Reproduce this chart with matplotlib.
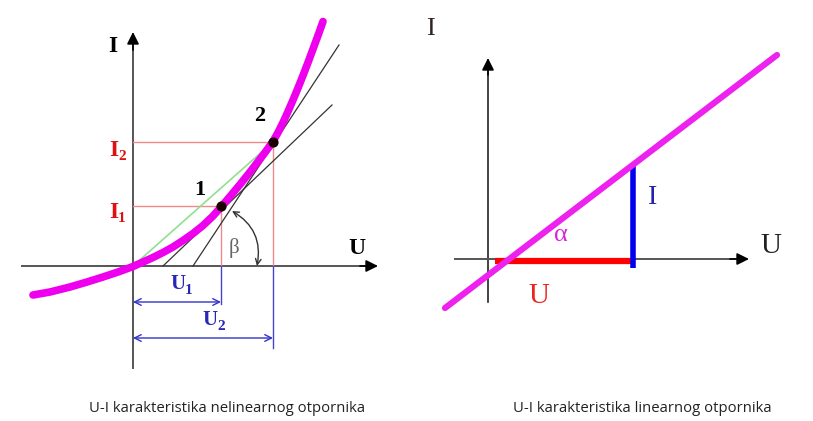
import matplotlib
matplotlib.use("Agg")
import matplotlib.pyplot as plt
from matplotlib.patches import FancyArrowPatch

# ---------------- data (pixel-space diagram coordinates) -------------
# Left diagram: nonlinear resistor I-U curve
curve_u = [33, 50, 70, 87, 103, 118, 133, 143, 153, 163, 173, 183, 193, 203, 213, 221,
           230, 240, 250, 258, 265, 273, 278, 283, 288, 293, 298, 303, 308, 313, 318, 323]
curve_i = [295, 292, 287, 282, 277, 272, 266.5, 262, 257.5, 252.5, 247, 240.5, 233.5, 225.5, 216, 207,
           196.5, 184.5, 172, 161.6, 152.5, 141.5, 132.5, 122.5, 111.5, 100, 88, 75.5, 62.5, 49, 35.5, 21.5]
origin_left = (133, 266)
point1 = (221, 206)
point2 = (273, 142)
tangent1 = ([163, 332], [266, 105])
tangent2 = ([193, 339], [266, 45])
point_labels = ["1", "2"]

# Right diagram: linear resistor
line_u = [445, 777]
line_i = [308, 55]
origin_right = (488, 259)
red_seg = ([495, 633], [261, 261])
blue_seg = ([633, 633], [163, 268])

captions = ["U-I karakteristika nelinearnog otpornika", "U-I karakteristika linearnog otpornika"]

# ---------------- figure ----------------
fig = plt.figure(figsize=(8.13, 4.21), dpi=100)
ax = fig.add_axes([0, 0, 1, 1])
ax.set_xlim(0, 813)
ax.set_ylim(421, 0)
ax.axis("off")

SERIF = "Liberation Serif"
axis_col = "#555555"


def arrow(x0, y0, x1, y1, col="black", lw=1.3, ms=16, style="-|>"):
    ax.add_patch(FancyArrowPatch((x0, y0), (x1, y1), arrowstyle=style, mutation_scale=ms,
                                 color=col, lw=lw, shrinkA=0, shrinkB=0, zorder=3))


# ---- Left diagram ----
ox, oy = origin_left
ax.plot([ox, ox], [368, 45], color=axis_col, lw=1.4, zorder=2)
arrow(ox, 50, ox, 32, col="black", lw=1.2, ms=18)
ax.plot([22, 365], [oy, oy], color=axis_col, lw=1.4, zorder=2)
arrow(360, oy, 378, oy, col="black", lw=1.2, ms=18)

# red guides
for (px, py) in (point1, point2):
    ax.plot([ox, px], [py, py], color="#F08A8A", lw=1.0, zorder=2)
    ax.plot([px, px], [py, oy], color="#F08A8A", lw=1.0, zorder=2)
# blue dimension lines
ax.plot([point1[0], point1[0]], [oy, 304], color="#4444CC", lw=1.0, zorder=2)
ax.plot([point2[0], point2[0]], [oy, 348], color="#4444CC", lw=1.0, zorder=2)
arrow(ox, 302, point1[0], 302, col="#3333CC", lw=1.0, ms=12, style="<->")
arrow(ox, 338, point2[0], 338, col="#3333CC", lw=1.0, ms=12, style="<->")

# green chord
ax.plot([ox, point2[0]], [oy, point2[1]], color="#8FE08F", lw=1.2, zorder=3)
# tangents
ax.plot(tangent1[0], tangent1[1], color="#333333", lw=0.9, zorder=3)
ax.plot(tangent2[0], tangent2[1], color="#333333", lw=0.9, zorder=3)

# beta arc
ax.add_patch(FancyArrowPatch((257, 266), (232, 211), connectionstyle="arc3,rad=0.35",
                             arrowstyle="<->", mutation_scale=10, color="#333333", lw=1.0,
                             shrinkA=0, shrinkB=0, zorder=3))

# magenta curve
ax.plot(curve_u, curve_i, color="#EE00EE", lw=5.5, solid_capstyle="round",
        solid_joinstyle="round", zorder=4)
for (px, py) in (point1, point2):
    ax.scatter([px], [py], s=40, color="#1a0000", zorder=5)

# labels
ax.text(113, 47, "I", fontfamily=SERIF, fontsize=17, fontweight="bold", ha="center", va="center")
ax.text(357, 249, "U", fontfamily=SERIF, fontsize=17, fontweight="bold", ha="center", va="center")
ax.text(200, 190, point_labels[0], fontfamily=SERIF, fontsize=16, fontweight="bold", ha="center", va="center")
ax.text(260, 116, point_labels[1], fontfamily=SERIF, fontsize=16, fontweight="bold", ha="center", va="center")
ax.text(234, 248, "β", fontfamily=SERIF, fontsize=15, color="#666666", ha="center", va="center")

red_lab = "#E01010"
ax.text(114, 150, "I", fontfamily=SERIF, fontsize=17, fontweight="bold", color=red_lab, ha="center", va="center")
ax.text(118, 157, "2", fontfamily=SERIF, fontsize=11, fontweight="bold", color=red_lab, ha="left", va="center")
ax.text(114, 212, "I", fontfamily=SERIF, fontsize=17, fontweight="bold", color=red_lab, ha="center", va="center")
ax.text(118, 219, "1", fontfamily=SERIF, fontsize=11, fontweight="bold", color=red_lab, ha="left", va="center")

blue_lab = "#2828B8"
ax.text(178, 284, "U", fontfamily=SERIF, fontsize=15, fontweight="bold", color=blue_lab, ha="center", va="center")
ax.text(185, 291, "1", fontfamily=SERIF, fontsize=11, fontweight="bold", color=blue_lab, ha="left", va="center")
ax.text(210, 320, "U", fontfamily=SERIF, fontsize=15, fontweight="bold", color=blue_lab, ha="center", va="center")
ax.text(217, 327, "2", fontfamily=SERIF, fontsize=11, fontweight="bold", color=blue_lab, ha="left", va="center")

# ---- Right diagram ----
rx, ry = origin_right
ax.plot([rx, rx], [302, 72], color="#222222", lw=1.2, zorder=2)
arrow(rx, 75, rx, 58, col="black", lw=1.2, ms=18)
ax.plot([455, 735], [ry, ry], color="#555555", lw=1.4, zorder=2)
arrow(730, ry, 749, ry, col="black", lw=1.2, ms=18)

ax.plot(red_seg[0], red_seg[1], color="#FF0000", lw=4.5, solid_capstyle="butt", zorder=3)
ax.plot(blue_seg[0], blue_seg[1], color="#0000EE", lw=4.0, solid_capstyle="butt", zorder=3)
ax.plot(line_u, line_i, color="#EE22EE", lw=4.5, solid_capstyle="round", zorder=4)

ax.text(430, 29, "I", fontfamily=SERIF, fontsize=19, color="#332222", ha="center", va="center")
ax.text(771, 246, "U", fontfamily=SERIF, fontsize=21, color="#222222", ha="center", va="center")
ax.text(653, 198, "I", fontfamily=SERIF, fontsize=20, color="#2222AA", ha="center", va="center")
ax.text(539, 296, "U", fontfamily=SERIF, fontsize=21, color="#EE2222", ha="center", va="center")
ax.text(561, 235, "α", fontfamily=SERIF, fontsize=19, color="#DD22DD", ha="center", va="center")

# ---- captions ----
ax.text(227, 408, captions[0], fontfamily="Open Sans", fontsize=10.7, color="#222222", ha="center", va="center")
ax.text(642, 408, captions[1], fontfamily="Open Sans", fontsize=10.7, color="#222222", ha="center", va="center")

fig.savefig("out.png", dpi=100)
